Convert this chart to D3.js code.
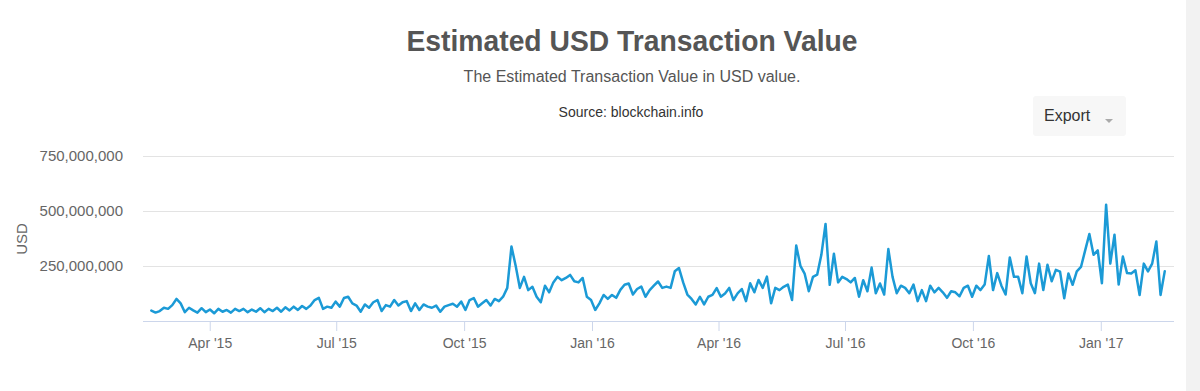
<!DOCTYPE html>
<html>
<head>
<meta charset="utf-8">
<script src="https://cdn.jsdelivr.net/npm/d3@7"></script>
<style>
  html, body { margin: 0; padding: 0; background: #fff; }
  svg { display: block; font-family: "Liberation Sans", Arial, Helvetica, sans-serif; }
</style>
</head>
<body>
<svg id="chart" width="1200" height="391"></svg>
<script>
// ---- data (values in millions of USD, one reading about every 3 days) ----
const firstDate = "2015-02-18";
const lastDate = "2017-02-16";
const valuesMillions = [
  47,38,45,60,55,72,100,80,40,60, 48,38,58,40,52,35,55,42,50,38,
  55,45,55,40,52,42,58,40,55,45, 60,42,62,48,65,50,68,55,70,95,
  105,55,65,60,88,65,104,110,80,70, 42,75,60,85,95,45,72,65,95,70,
  85,90,45,80,50,75,65,60,70,42, 65,72,78,65,88,50,95,104,65,80,
  95,70,100,90,110,150,338,250,150,200, 140,155,110,85,160,130,175,200,185,195,
  209,180,175,195,110,95,50,80,118,100, 118,105,141,164,170,120,145,156,110,140,
  160,179,150,156,150,225,240,175,120,100, 75,110,75,110,118,149,110,125,150,95,
  125,145,90,171,130,186,150,201,80,150, 140,155,165,95,342,250,215,135,200,210,
  300,440,164,305,175,200,190,175,195,110, 185,135,242,126,170,120,326,200,126,160,
  150,126,165,90,140,90,160,130,150,130, 105,135,130,112,150,160,110,160,140,165,
  295,140,217,160,120,288,200,200,126,292, 171,126,260,140,255,180,232,224,103,215,
  164,225,245,320,394,300,320,171,527,260, 391,165,292,217,215,230,118,260,225,260,
  360,118,225
];
const yTickValues = [250000000, 500000000, 750000000];
const xTickDates = ["2015-04-01","2015-07-01","2015-10-01","2016-01-01","2016-04-01","2016-07-01","2016-10-01","2017-01-01"];
const xDomain = ["2015-02-12","2017-02-22T16:00"];
const yMax = 750000000;

const titleText = "Estimated USD Transaction Value";
const subtitleText = "The Estimated Transaction Value in USD value.";
const sourceText = "Source: blockchain.info";
const yAxisTitle = "USD";
const exportLabel = "Export";

// ---- build series ----
const parse = d3.isoParse;
const t0 = parse(firstDate).getTime();
const t1 = parse(lastDate).getTime();
const n = valuesMillions.length;
const series = valuesMillions.map((v, i) => ({
  date: new Date(t0 + (t1 - t0) * i / (n - 1)),
  value: v * 1e6
}));

// ---- layout ----
const svg = d3.select("#chart");
const plot = { left: 143, right: 1174, top: 155.5, bottom: 321 };

const x = d3.scaleTime().domain(xDomain.map(parse)).range([plot.left, plot.right]);
const y = d3.scaleLinear().domain([0, yMax]).range([plot.bottom, plot.top]);

// right-edge grey strip
svg.append("rect").attr("x", 1186).attr("y", 0).attr("width", 14).attr("height", 391).attr("fill", "#f2f2f2");

// titles
svg.append("text").attr("x", 632).attr("y", 51).attr("text-anchor", "middle")
  .attr("fill", "#555").attr("font-size", 29).attr("font-weight", "bold")
  .attr("textLength", 451).attr("lengthAdjust", "spacingAndGlyphs")
  .text(titleText);
svg.append("text").attr("x", 632).attr("y", 82).attr("text-anchor", "middle")
  .attr("fill", "#555").attr("font-size", 16).text(subtitleText);
svg.append("text").attr("x", 631).attr("y", 117).attr("text-anchor", "middle")
  .attr("fill", "#333").attr("font-size", 14).text(sourceText);

// export button
const btn = svg.append("g");
btn.append("rect").attr("x", 1033).attr("y", 96).attr("width", 93).attr("height", 40)
  .attr("rx", 3).attr("fill", "#f7f7f7");
btn.append("text").attr("x", 1044).attr("y", 121).attr("fill", "#333").attr("font-size", 16).text(exportLabel);
btn.append("path").attr("d", "M1105,119 L1113,119 L1109,123 Z").attr("fill", "#aaa");

// gridlines
svg.append("g").selectAll("line").data(yTickValues).join("line")
  .attr("x1", plot.left).attr("x2", plot.right)
  .attr("y1", d => Math.round(y(d)) + 0.5).attr("y2", d => Math.round(y(d)) + 0.5)
  .attr("stroke", "#e3e3e3").attr("stroke-width", 1);

// y axis labels
const yAxis = d3.axisLeft(y).tickValues(yTickValues).tickFormat(d3.format(",")).tickSize(0).tickPadding(0);
const gy = svg.append("g").attr("transform", `translate(123,0)`).call(yAxis);
gy.select(".domain").remove();
gy.selectAll("text").attr("fill", "#666").attr("font-size", 15)
  .attr("font-family", "'Liberation Sans', Arial, sans-serif");

svg.append("text").attr("transform", "translate(27,239) rotate(-90)").attr("text-anchor", "middle")
  .attr("fill", "#666").attr("font-size", 15).text(yAxisTitle);

// x axis
const xAxis = d3.axisBottom(x).tickValues(xTickDates.map(parse))
  .tickFormat(d3.timeFormat("%b '%y")).tickSize(10).tickPadding(7).tickSizeOuter(0);
const gx = svg.append("g").attr("transform", `translate(0,${plot.bottom})`).call(xAxis);
gx.select(".domain").attr("stroke", "#ccd6eb").attr("d", `M${plot.left},0.5H${plot.right}`);
gx.selectAll(".tick line").attr("stroke", "#ccd6eb");
gx.selectAll("text").attr("fill", "#666").attr("font-size", 14)
  .attr("font-family", "'Liberation Sans', Arial, sans-serif");

// line
const line = d3.line().x(d => x(d.date)).y(d => y(d.value)).curve(d3.curveLinear);
svg.append("path").datum(series).attr("d", line)
  .attr("fill", "none").attr("stroke", "#1b9ad6").attr("stroke-width", 2.5)
  .attr("stroke-linejoin", "round").attr("stroke-linecap", "round");
</script>
</body>
</html>
